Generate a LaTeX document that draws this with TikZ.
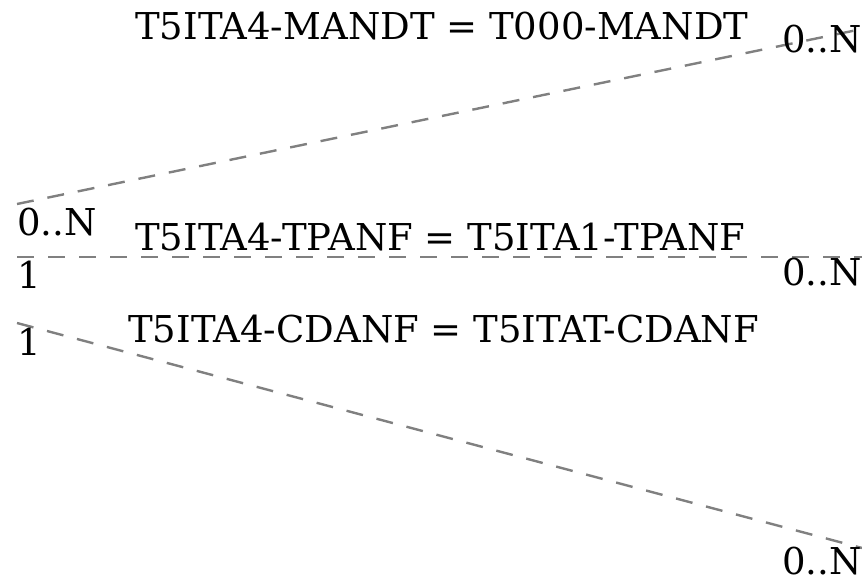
\documentclass[tikz,border=0pt]{standalone}
\usepackage{fontspec}
\setmainfont{DejaVu Serif}
\begin{document}
\begin{tikzpicture}[x=1pt,y=-1pt,
  rel/.style={draw={rgb,255:red,128;green,128;blue,128},line width=2.4pt,dash pattern=on 17pt off 14pt},
  lbl/.style={anchor=base west,inner sep=0pt,font=\fontsize{37}{41}\selectfont}]
\useasboundingbox (0,0) rectangle (862,583);
\coordinate (a1) at (17,204);
\coordinate (b1) at (862,29);
\coordinate (a2) at (17,257);
\coordinate (b2) at (862,257);
\coordinate (a3) at (17,323);
\coordinate (b3) at (862,548);
\draw[rel] (a1) -- (b1);
\draw[rel] (a2) -- (b2);
\draw[rel] (a3) -- (b3);
\node[lbl] (t1) at (135,40) {T5ITA4-MANDT = T000-MANDT};
\node[lbl] (t2) at (135,250) {T5ITA4-TPANF = T5ITA1-TPANF};
\node[lbl] (t3) at (128,342) {T5ITA4-CDANF = T5ITAT-CDANF};
\node[lbl] (l1) at (17,235) {0..N};
\node[lbl] (l2) at (17,288) {1};
\node[lbl] (l3) at (17,355) {1};
\node[lbl] (r1) at (782,53) {0..N};
\node[lbl] (r2) at (782,285) {0..N};
\node[lbl] (r3) at (782,574) {0..N};
\end{tikzpicture}
\end{document}
